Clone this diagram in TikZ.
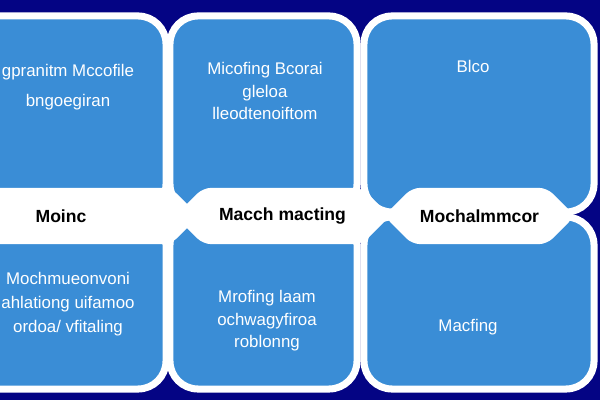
\documentclass[tikz,border=0pt]{standalone}
\usepackage{fontspec}
\setmainfont{Liberation Sans}
\usetikzlibrary{shapes.symbols}
\definecolor{navybg}{RGB}{4, 4, 132}
\definecolor{panelblue}{RGB}{58, 141, 214}

\begin{document}
\begin{tikzpicture}[x=0.025cm, y=0.025cm,
    panel/.style={rectangle, rounded corners=0.7cm, draw=white, fill=panelblue, line width=5pt},
    chevron/.style={signal, signal pointer angle=90, draw=white, fill=white, line width=3pt, rounded corners=5pt, minimum height=1.3cm, inner sep=0pt, font=\fontsize{12.5}{15}\selectfont\bfseries, text=black},
    paneltext/.style={align=center, text=white, font=\fontsize{12}{16}\selectfont}]

\useasboundingbox (0, 0) rectangle (600, 400);
\clip (0, 0) rectangle (600, 400);
\fill[navybg] (0, 0) rectangle (600, 400);

% top row
\node[panel, minimum width=4.9cm, minimum height=4.9cm] (topleft) at (68, 286) {};
\node[panel, minimum width=4.675cm, minimum height=4.9cm] (topmid) at (263.5, 286) {};
\node[panel, minimum width=5.75cm, minimum height=4.9cm] (topright) at (479, 286) {};

% bottom row
\node[panel, minimum width=4.9cm, minimum height=4.3cm] (botleft) at (68, 97) {};
\node[panel, minimum width=4.675cm, minimum height=4.3cm] (botmid) at (263.5, 97) {};
\node[panel, minimum width=5.75cm, minimum height=4.3cm] (botright) at (479, 97) {};

% middle band
\node[chevron, signal to=east, minimum width=6.1cm] (moinc) at (61, 184) {Moinc};
\node[chevron, signal to=east and west, minimum width=5.225cm] (macting) at (282.5, 184) {Macch macting};
\node[chevron, signal to=east and west, minimum width=4.625cm] (mochal) at (479.5, 184) {Mochalmmcor};

% panel texts
\node[paneltext, font=\fontsize{12}{21}\selectfont] (tltext) at (68, 313) {gpranitm Mccofile\\bngoegiran};
\node[paneltext] (tmtext) at (265, 309) {Micofing Bcorai\\gleloa\\lleodtenoiftom};
\node[paneltext] (trtext) at (473, 334) {Blco};
\node[paneltext, font=\fontsize{12}{17}\selectfont] (bltext) at (68, 96) {Mochmueonvoni\\ahlationg uifamoo\\ordoa/ vfitaling};
\node[paneltext] (bmtext) at (267, 79) {Mrofing laam\\ochwagyfiroa\\roblonng};
\node[paneltext] (brtext) at (468, 73) {Macfing};

\end{tikzpicture}
\end{document}
